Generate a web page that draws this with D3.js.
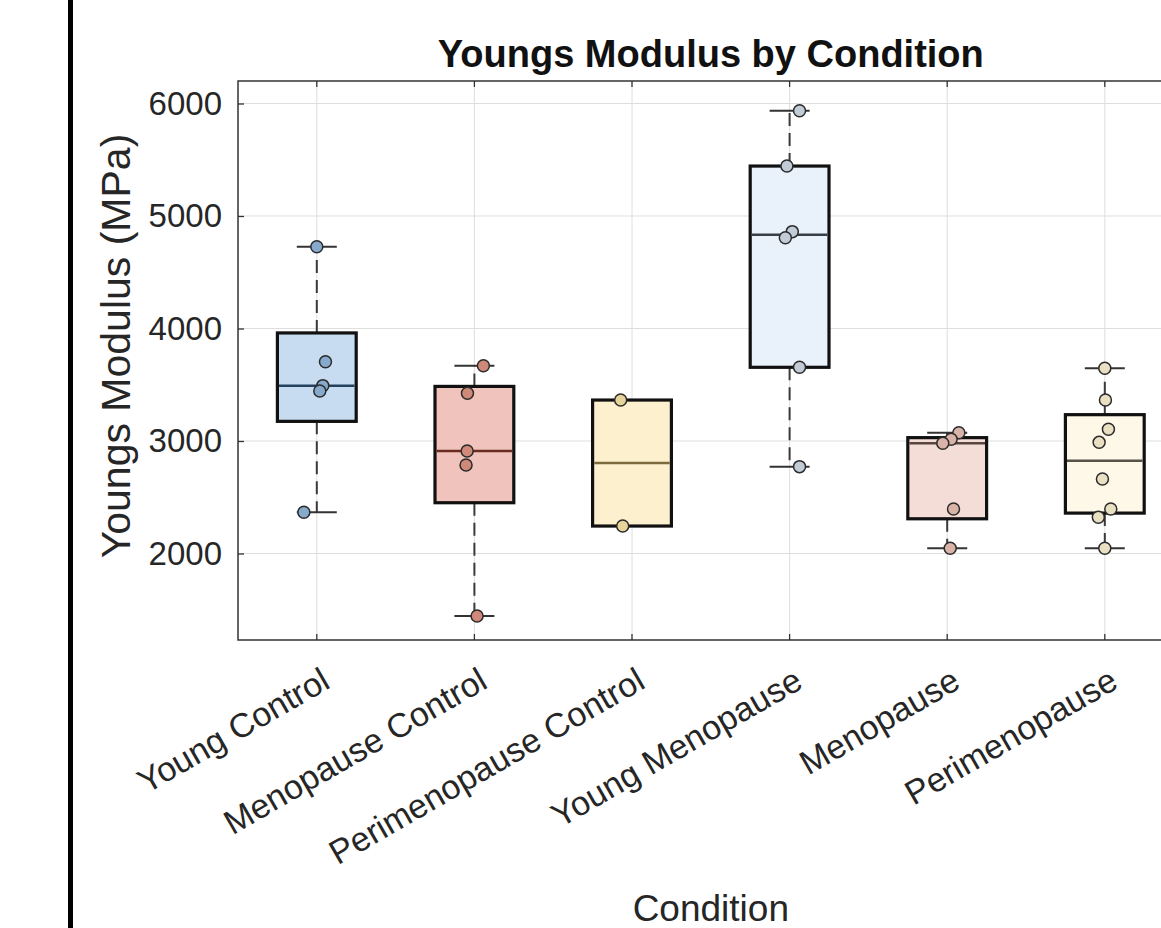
<!DOCTYPE html>
<html>
<head>
<meta charset="utf-8">
<script src="https://cdn.jsdelivr.net/npm/d3@7"></script>
<style>
  body { margin: 0; background: #fff; }
  text { font-family: "Liberation Sans", Arial, sans-serif; }
</style>
</head>
<body>
<div id="chart"></div>
<script>
(function () {
    // categories and measured values (MPa)
    const conditions = ["Young Control", "Menopause Control", "Perimenopause Control",
                        "Young Menopause", "Menopause", "Perimenopause"];
    const youngControl = [4727, 3705, 3492, 3444, 2366];
    const menopauseControl = [3669, 3424, 2911, 2787, 1444];
    const perimenopauseControl = [3364, 2244];
    const youngMenopause = [5936, 5444, 4861, 4807, 3655, 2772];
    const menopause = [3074, 3015, 2980, 2396, 2046];
    const perimenopause = [3646, 3364, 3104, 2988, 2662, 2396, 2322, 2046];
    // horizontal jitter of the scatter points, in category widths
    const jitter = [
        [0, 0.055, 0.038, 0.019, -0.082],
        [0.057, -0.044, -0.046, -0.053, 0.017],
        [-0.072, -0.059],
        [0.063, -0.017, 0.017, -0.027, 0.063, 0.063],
        [0.074, 0.025, -0.028, 0.04, 0.019],
        [0, 0.004, 0.023, -0.036, -0.015, 0.038, -0.041, 0]
    ];
    const yTicks = [2000, 3000, 4000, 5000, 6000];

    const groups = [youngControl, menopauseControl, perimenopauseControl,
                    youngMenopause, menopause, perimenopause];

    const boxFill = ["#c7dcf0", "#f0c4bc", "#fdf0cf", "#e9f1fb", "#f3ddd6", "#fdf8e7"];
    const dotFill = ["#86a9cc", "#d08878", "#e6d49a", "#c2ccd6", "#d9b3a8", "#e9e0c4"];
    const medColor = ["#24415e", "#6a2c22", "#7a6a3c", "#3a3f46", "#5b4540", "#55524a"];

    const width = 1161, height = 928;
    const left = 238, top = 81, bottom = 640;
    const plotW = 6 * 157.6;

    const svg = d3.select("#chart").append("svg")
        .attr("width", width).attr("height", height);

    svg.append("rect").attr("x", 68).attr("y", 0).attr("width", 5).attr("height", height).attr("fill", "#000");

    const x = d3.scaleBand().domain(conditions).range([left, left + plotW]).padding(0);
    const bw = x.bandwidth();
    const cx = c => x(c) + bw / 2;
    const y = d3.scaleLinear().domain([1231, 6200]).range([bottom, top]);

    // grid
    svg.append("g").selectAll("line").data(yTicks).join("line")
        .attr("x1", left).attr("x2", left + plotW)
        .attr("y1", d => y(d)).attr("y2", d => y(d))
        .attr("stroke", "#dedede").attr("stroke-width", 1);
    svg.append("g").selectAll("line").data(conditions).join("line")
        .attr("x1", cx).attr("x2", cx).attr("y1", top).attr("y2", bottom)
        .attr("stroke", "#dedede").attr("stroke-width", 1);

    // axes
    const yAxis = svg.append("g").attr("transform", `translate(${left},0)`)
        .call(d3.axisLeft(y).tickValues(yTicks).tickSize(-6).tickPadding(16).tickFormat(d3.format("d")));
    yAxis.select(".domain").remove();
    yAxis.selectAll("line").attr("stroke", "#333").attr("stroke-width", 1.3);
    yAxis.selectAll("text").attr("font-size", 33).attr("fill", "#262626");

    const xAxis = svg.append("g").attr("transform", `translate(0,${bottom})`)
        .call(d3.axisBottom(x).tickSize(-6).tickPadding(0));
    xAxis.select(".domain").remove();
    xAxis.selectAll("line").attr("stroke", "#333").attr("stroke-width", 1.3);
    xAxis.selectAll("text")
        .attr("font-size", 34).attr("fill", "#262626")
        .attr("text-anchor", "end").attr("y", 0).attr("dy", 0)
        .attr("transform", `translate(15,47) rotate(-30)`);

    const topAxis = svg.append("g").attr("transform", `translate(0,${top})`)
        .call(d3.axisTop(x).tickSize(-6).tickFormat(""));
    topAxis.select(".domain").remove();
    topAxis.selectAll("line").attr("stroke", "#333").attr("stroke-width", 1.3);

    // axes frame
    svg.append("path")
        .attr("d", `M${left + plotW},${top}H${left}V${bottom}H${left + plotW}`)
        .attr("fill", "none").attr("stroke", "#333").attr("stroke-width", 1.5);

    // matlab-style quantile
    function quant(sorted, p) {
        const n = sorted.length;
        let pos = p * n + 0.5;
        pos = Math.max(1, Math.min(n, pos));
        const lo = Math.floor(pos), frac = pos - lo;
        if (lo >= n) return sorted[n - 1];
        return sorted[lo - 1] + frac * (sorted[lo] - sorted[lo - 1]);
    }

    const boxW = bw * 0.5;
    groups.forEach((vals, i) => {
        const c = conditions[i];
        const s = vals.slice().sort(d3.ascending);
        const q1 = quant(s, 0.25), med = quant(s, 0.5), q3 = quant(s, 0.75);
        const iqr = q3 - q1;
        const lowW = d3.min(s.filter(v => v >= q1 - 1.5 * iqr));
        const highW = d3.max(s.filter(v => v <= q3 + 1.5 * iqr));
        const g = svg.append("g");
        const xc = cx(c);

        [[q3, highW], [q1, lowW]].forEach(([from, to]) => {
            if (Math.abs(to - from) < 1) return;
            g.append("line")
                .attr("x1", xc).attr("x2", xc).attr("y1", y(from)).attr("y2", y(to))
                .attr("stroke", "#3a3a3a").attr("stroke-width", 2)
                .attr("stroke-dasharray", "13,7");
            g.append("line")
                .attr("x1", xc - 20).attr("x2", xc + 20).attr("y1", y(to)).attr("y2", y(to))
                .attr("stroke", "#333").attr("stroke-width", 2);
        });

        g.append("rect")
            .attr("x", xc - boxW / 2).attr("width", boxW)
            .attr("y", y(q3)).attr("height", y(q1) - y(q3))
            .attr("fill", boxFill[i]).attr("stroke", "#111").attr("stroke-width", 3.2);
        g.append("line")
            .attr("x1", xc - boxW / 2 + 1.6).attr("x2", xc + boxW / 2 - 1.6)
            .attr("y1", y(med)).attr("y2", y(med))
            .attr("stroke", medColor[i]).attr("stroke-width", 2.5);

        g.selectAll("circle").data(vals).join("circle")
            .attr("cx", (d, k) => xc + jitter[i][k] * bw)
            .attr("cy", d => y(d))
            .attr("r", 6)
            .attr("fill", dotFill[i]).attr("stroke", "#2b2b2b").attr("stroke-width", 1.5);
    });

    // labels
    svg.append("text").attr("x", left + plotW / 2).attr("y", 67)
        .attr("text-anchor", "middle").attr("font-size", 38).attr("font-weight", "bold")
        .attr("fill", "#111").text("Youngs Modulus by Condition");
    svg.append("text").attr("transform", `translate(130,346) rotate(-90)`)
        .attr("text-anchor", "middle").attr("font-size", 41).attr("fill", "#262626")
        .text("Youngs Modulus (MPa)");
    svg.append("text").attr("x", left + plotW / 2).attr("y", 921)
        .attr("text-anchor", "middle").attr("font-size", 37).attr("fill", "#262626")
        .text("Condition");
})();
</script>
</body>
</html>
